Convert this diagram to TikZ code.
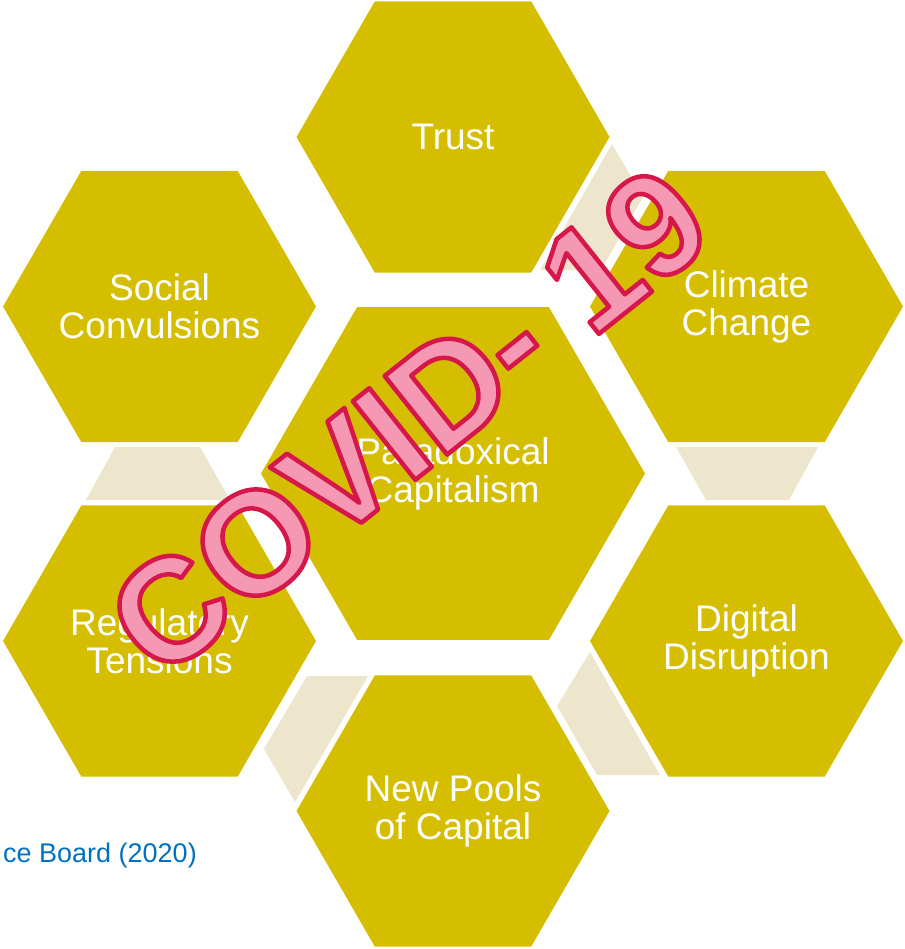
\documentclass[tikz,border=0pt]{standalone}
\usepackage{fontspec}
\setmainfont{Liberation Sans}
\usetikzlibrary{shapes.geometric}
\definecolor{hexfill}{HTML}{D5BE00}
\definecolor{linkfill}{HTML}{EDE6CC}
\definecolor{srcblue}{HTML}{0070C0}
\definecolor{covfill}{HTML}{F598B4}
\tikzset{
  hexa/.style={regular polygon, regular polygon sides=6, fill=hexfill,
    inner sep=0pt, minimum size=313pt},
  bighexa/.style={hexa, minimum size=384pt},
  hextext/.style={text=white, align=center, inner sep=0pt,
    font=\fontsize{37}{38}\selectfont},
  link/.style={fill=linkfill},
}
\begin{document}
\begin{tikzpicture}[x=1pt,y=-1pt]
\useasboundingbox (0,0) rectangle (904,949);

% light links between neighbouring hexagons
\fill[link] (115,447) -- (200,447) -- (230,500) -- (86,500) -- cycle;
\fill[link] (676,447) -- (818,447) -- (789,500) -- (706,500) -- cycle;
\fill[link] (612,144) -- (643,197) -- (601,270) -- (540,270) -- cycle;
\fill[link] (307,676) -- (368,676) -- (295,802) -- (264,749) -- cycle;
\fill[link] (590,652) -- (660,775) -- (597,775) -- (557,706) -- cycle;

% hexagons
\node[hexa]    (trust)   at (453,137)     {};
\node[hexa]    (social)  at (159.5,306.5) {};
\node[hexa]    (climate) at (746.5,306.5) {};
\node[bighexa] (para)    at (453,473.5)   {};
\node[hexa]    (reg)     at (159.5,641)   {};
\node[hexa]    (digital) at (746.5,641)   {};
\node[hexa]    (pools)   at (453,811)     {};

% hexagon labels
\node[hextext] (trustT)   at (trust)   {Trust};
\node[hextext] (socialT)  at (social)  {Social\\Convulsions};
\node[hextext] (climateT) at (climate) {Climate\\Change};
\node[hextext] (paraT)    at (para)    {Paradoxical\\Capitalism};
\node[hextext] (regT)     at (reg)     {Regulatory\\Tensions};
\node[hextext] (digitalT) at (digital) {Digital\\Disruption};
\node[hextext] (poolsT)   at (pools)   {New Pools\\of Capital};

% source line
\node[anchor=base east, inner sep=0pt, text=srcblue,
  font=\fontsize{27}{30}\selectfont] (src) at (197,862) {ce Board (2020)};

% outlined stamp text
\node[rotate=38.5, anchor=base west, inner sep=0pt, text=covfill,
  font=\fontsize{146}{146}\bfseries\selectfont] (covid) at (160,683)
  {\special{pdf:literal direct 2 Tr 4.5 w 0.839 0.09 0.29 RG 1 j}COVID- 19\special{pdf:literal direct 0 Tr}};
\end{tikzpicture}
\end{document}
